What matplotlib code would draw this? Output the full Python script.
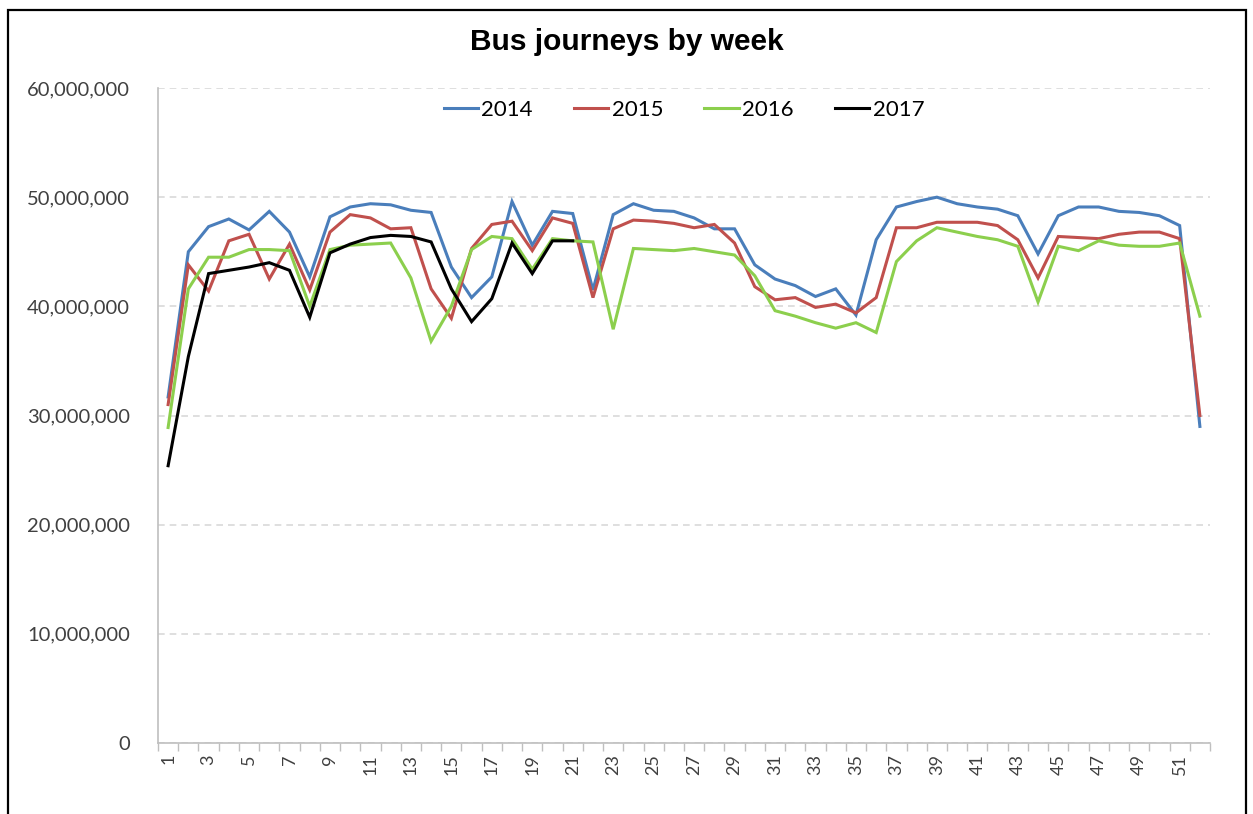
import matplotlib.pyplot as plt
from matplotlib.ticker import FuncFormatter, FixedLocator
from matplotlib.patches import Rectangle

weeks = list(range(1, 53))

j2014 = [31.7, 45.0, 47.3, 48.0, 47.0, 48.7, 46.8, 42.7, 48.2, 49.1,
         49.4, 49.3, 48.8, 48.6, 43.6, 40.8, 42.7, 49.6, 45.6, 48.7,
         48.5, 41.5, 48.4, 49.4, 48.8, 48.7, 48.1, 47.1, 47.1, 43.8,
         42.5, 41.9, 40.9, 41.6, 39.2, 46.1, 49.1, 49.6, 50.0, 49.4,
         49.1, 48.9, 48.3, 44.8, 48.3, 49.1, 49.1, 48.7, 48.6, 48.3,
         47.4, 29.0]
j2015 = [31.0, 43.8, 41.4, 46.0, 46.6, 42.5, 45.7, 41.5, 46.8, 48.4,
         48.1, 47.1, 47.2, 41.6, 38.9, 45.3, 47.5, 47.8, 45.1, 48.1,
         47.6, 40.8, 47.1, 47.9, 47.8, 47.6, 47.2, 47.5, 45.8, 41.8,
         40.6, 40.8, 39.9, 40.2, 39.4, 40.8, 47.2, 47.2, 47.7, 47.7,
         47.7, 47.4, 46.1, 42.6, 46.4, 46.3, 46.2, 46.6, 46.8, 46.8,
         46.2, 30.0]
j2016 = [28.9, 41.6, 44.5, 44.5, 45.2, 45.2, 45.1, 40.0, 45.2, 45.6,
         45.7, 45.8, 42.6, 36.8, 40.0, 45.2, 46.4, 46.2, 43.4, 46.2,
         46.0, 45.9, 37.9, 45.3, 45.2, 45.1, 45.3, 45.0, 44.7, 42.8,
         39.6, 39.1, 38.5, 38.0, 38.5, 37.6, 44.1, 46.0, 47.2, 46.8,
         46.4, 46.1, 45.5, 40.4, 45.5, 45.1, 46.0, 45.6, 45.5, 45.5,
         45.8, 39.1]
j2017 = [25.4, 35.4, 43.0, 43.3, 43.6, 44.0, 43.3, 39.0, 44.9, 45.7,
         46.3, 46.5, 46.4, 45.9, 41.6, 38.6, 40.7, 45.8, 43.0, 46.0,
         46.0]

series = [('2014', j2014, '#4A7EBB'),
          ('2015', j2015, '#C0504D'),
          ('2016', j2016, '#8CCF4D'),
          ('2017', j2017, '#000000')]

fig = plt.figure(figsize=(12.53, 8.14), dpi=100)
ax = fig.add_axes([158/1253, 1 - 743/814, (1210-158)/1253, (743-88)/814])

for nom, val, col in series:
    ax.plot(weeks[:len(val)], [v*1e6 for v in val], color=col, linewidth=2.2,
            label=nom, solid_joinstyle='miter')

ax.set_xlim(0.5, 52.5)
ax.set_ylim(0, 60e6)
ax.set_yticks(range(0, 60000001, 10000000))
ax.yaxis.set_major_formatter(FuncFormatter(lambda v, p: '{:,.0f}'.format(v)))
ax.grid(axis='y', color='#D9D9D9', linestyle=(0, (4, 3)), linewidth=1.2)
ax.set_axisbelow(True)

# etiquettes une semaine sur deux, graduations entre les catégories
ax.set_xticks(weeks[::2])
ax.set_xticklabels([str(w) for w in weeks[::2]], rotation=90,
                   fontfamily='Lato', fontsize=13, color='#404040')
ax.tick_params(axis='x', which='major', length=0, pad=8)
ax.xaxis.set_minor_locator(FixedLocator([w + 0.5 for w in range(0, 53)]))
ax.tick_params(axis='x', which='minor', length=6, color='#BFBFBF', width=1)
ax.tick_params(axis='y', length=0, pad=20, labelsize=14.5, labelcolor='#404040')
for lab in ax.get_yticklabels():
    lab.set_fontfamily('Lato')

for s in ['top', 'right']:
    ax.spines[s].set_visible(False)
for s in ['left', 'bottom']:
    ax.spines[s].set_color('#BFBFBF')
    ax.spines[s].set_linewidth(1.2)

fig.text(0.5, 1 - 42/814, 'Bus journeys by week', ha='center', va='center',
         fontsize=21.5, fontweight='bold', fontfamily='Liberation Sans')

leg = ax.legend(loc='center', bbox_to_anchor=(0.5, 1 - (110-88)/655), ncol=4,
                frameon=False, handlelength=1.55, handletextpad=0.15,
                columnspacing=1.85, prop={'family': 'Lato', 'size': 16})

fig.patches.append(Rectangle((8/1253, -0.01), (1246-8)/1253, 1 - 10/814 + 0.01,
                             transform=fig.transFigure, fill=False,
                             edgecolor='black', linewidth=1.6))

fig.savefig('out.png', dpi=100)
